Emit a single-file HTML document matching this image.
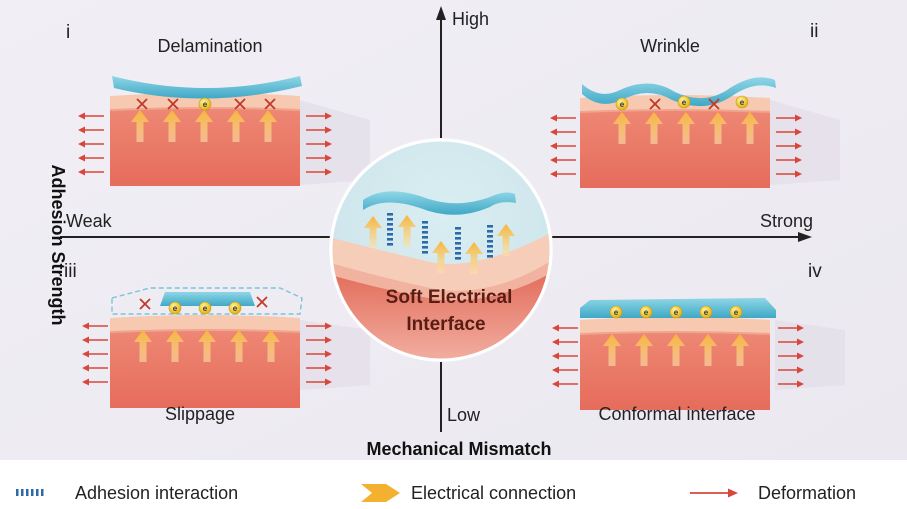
<!DOCTYPE html>
<html><head><meta charset="utf-8"><style>
html,body{margin:0;padding:0;background:#fff}
svg{display:block}
text{font-family:"Liberation Sans",Arial,sans-serif}
</style></head><body>
<svg width="907" height="509" viewBox="0 0 907 509" xmlns="http://www.w3.org/2000/svg">
<defs>
<linearGradient id="bg" x1="0" y1="0" x2="1" y2="1">
<stop offset="0" stop-color="#f1eff5"/><stop offset="1" stop-color="#ebe8f0"/></linearGradient>
<linearGradient id="body" x1="0" y1="0" x2="0" y2="1">
<stop offset="0" stop-color="#ee8a76"/><stop offset="1" stop-color="#e66c5c"/></linearGradient>
<linearGradient id="film" x1="0" y1="0" x2="0" y2="1">
<stop offset="0" stop-color="#8fd6e6"/><stop offset="1" stop-color="#3fa8c6"/></linearGradient>
<linearGradient id="ya" x1="0" y1="0" x2="0" y2="1">
<stop offset="0" stop-color="#f6b53a"/><stop offset="1" stop-color="#fbe0a8" stop-opacity="0.6"/></linearGradient>
<radialGradient id="circ" cx="0.5" cy="0.35" r="0.65">
<stop offset="0" stop-color="#d9eef2"/><stop offset="0.7" stop-color="#cfe6ec"/><stop offset="1" stop-color="#e8f0f3"/></radialGradient>
<linearGradient id="circred" x1="0" y1="0" x2="0" y2="1">
<stop offset="0" stop-color="#e26a58"/><stop offset="1" stop-color="#f3b5a8"/></linearGradient>
<radialGradient id="eb" cx="0.4" cy="0.35" r="0.6">
<stop offset="0" stop-color="#fff5a0"/><stop offset="1" stop-color="#e5b51c"/></radialGradient>
<g id="tissue">
<path d="M0,8 Q95,0 190,8 L190,90 L0,90 Z" fill="url(#body)"/>
<path d="M0,0 Q95,-6 190,0 L190,14 Q95,10 0,14 Z" fill="#f7c9b1"/>
<path d="M0,14 Q95,10 190,14" stroke="#f0a58f" stroke-width="2" fill="none"/>
</g>
<polygon id="yarr" points="0,-16 -9,-4 -3.5,-4 -3.5,16 3.5,16 3.5,-4 9,-4" fill="url(#ya)"/>
<g id="rr"><line x1="0" y1="0" x2="20" y2="0" stroke="#d8473b" stroke-width="1.6"/><polygon points="26,0 19,-3.5 19,3.5" fill="#d8473b"/></g>
<g id="rl"><line x1="6" y1="0" x2="26" y2="0" stroke="#d8473b" stroke-width="1.6"/><polygon points="0,0 7,-3.5 7,3.5" fill="#d8473b"/></g>
<g id="arrs">
<use href="#rl" x="0" y="0"/><use href="#rl" x="0" y="14"/><use href="#rl" x="0" y="28"/><use href="#rl" x="0" y="42"/><use href="#rl" x="0" y="56"/>
</g>
<g id="arrsR">
<use href="#rr" x="0" y="0"/><use href="#rr" x="0" y="14"/><use href="#rr" x="0" y="28"/><use href="#rr" x="0" y="42"/><use href="#rr" x="0" y="56"/>
</g>
<g id="ya5">
<use href="#yarr" x="0"/><use href="#yarr" x="32"/><use href="#yarr" x="64"/><use href="#yarr" x="96"/><use href="#yarr" x="128"/>
</g>
<g id="e"><circle r="6" fill="url(#eb)" stroke="#c99a10" stroke-width="0.6"/><text y="3" text-anchor="middle" font-size="8" fill="#333" font-weight="bold">e</text></g>
<g id="x"><path d="M-5,-5 L5,5 M5,-5 L-5,5" stroke="#c0392b" stroke-width="1.8"/></g>
<g id="dash"><rect x="-3" y="0" width="6" height="2.6" fill="#2f6aa8"/><rect x="-3" y="5" width="6" height="2.6" fill="#2f6aa8"/><rect x="-3" y="10" width="6" height="2.6" fill="#2f6aa8"/><rect x="-3" y="15" width="6" height="2.6" fill="#2f6aa8"/><rect x="-3" y="20" width="6" height="2.6" fill="#2f6aa8"/><rect x="-3" y="25" width="6" height="2.6" fill="#2f6aa8"/><rect x="-3" y="30" width="6" height="2.6" fill="#2f6aa8"/></g>
<clipPath id="cc"><circle cx="441" cy="250" r="110"/></clipPath>
</defs>
<rect x="0" y="0" width="907" height="460" fill="url(#bg)"/>
<rect x="0" y="460" width="907" height="49" fill="#fff"/>

<!-- shadows -->
<polygon points="300,100 370,120 370,180 300,185" fill="#e2dde8" opacity="0.7"/>
<polygon points="770,100 840,120 840,180 770,185" fill="#e2dde8" opacity="0.7"/>
<polygon points="300,320 370,330 370,385 300,390" fill="#e2dde8" opacity="0.7"/>
<polygon points="775,320 845,330 845,385 775,390" fill="#e2dde8" opacity="0.7"/>

<!-- axes -->
<line x1="441" y1="18" x2="441" y2="432" stroke="#222" stroke-width="2"/>
<polygon points="441,6 436,20 446,20" fill="#222"/>
<line x1="60" y1="237" x2="800" y2="237" stroke="#222" stroke-width="2"/>
<polygon points="812,237 798,232 798,242" fill="#222"/>

<!-- Quadrant i -->
<use href="#tissue" x="110" y="96"/>
<path d="M112,76 Q205,100 300,76 L302,86 Q205,110 114,88 Z" fill="url(#film)"/>
<use href="#ya5" x="140" y="126"/>
<use href="#x" x="142" y="104"/><use href="#x" x="173" y="104"/><use href="#e" x="205" y="104"/><use href="#x" x="240" y="104"/><use href="#x" x="270" y="104"/>
<use href="#arrs" x="78" y="116"/><use href="#arrsR" x="306" y="116"/>

<!-- Quadrant ii -->
<use href="#tissue" x="580" y="98"/>
<path d="M582,84 Q600,100 620,90 Q650,76 675,92 Q705,106 730,88 Q755,72 775,80 L776,88 Q755,80 732,96 Q705,114 672,100 Q648,86 622,100 Q600,110 582,94 Z" fill="url(#film)"/>
<use href="#ya5" x="622" y="128"/>
<use href="#e" x="622" y="104"/><use href="#x" x="655" y="104"/><use href="#e" x="684" y="102"/><use href="#x" x="714" y="104"/><use href="#e" x="742" y="102"/>
<use href="#arrs" x="550" y="118"/><use href="#arrsR" x="776" y="118"/>

<!-- Quadrant iii -->
<use href="#tissue" x="110" y="318"/>
<path d="M112,298 L150,288 L280,288 L302,298 L300,314 L112,314 Z" fill="none" stroke="#7cc4da" stroke-width="1.4" stroke-dasharray="5,3"/>
<path d="M165,292 L250,292 L255,306 L160,306 Z" fill="url(#film)"/>
<use href="#ya5" x="143" y="346"/>
<use href="#x" x="145" y="304"/><use href="#e" x="175" y="308"/><use href="#e" x="205" y="308"/><use href="#e" x="235" y="308"/><use href="#x" x="262" y="302"/>
<use href="#arrs" x="82" y="326"/><use href="#arrsR" x="306" y="326"/>

<!-- Quadrant iv -->
<use href="#tissue" x="580" y="320"/>
<path d="M590,300 L765,298 L776,310 L776,318 L580,318 L580,308 Z" fill="url(#film)"/>
<use href="#ya5" x="612" y="350"/>
<use href="#e" x="616" y="312"/><use href="#e" x="646" y="312"/><use href="#e" x="676" y="312"/><use href="#e" x="706" y="312"/><use href="#e" x="736" y="312"/>
<use href="#arrs" x="552" y="328"/><use href="#arrsR" x="778" y="328"/>

<!-- center circle -->
<circle cx="441" cy="250" r="112" fill="#f4f4f6"/>
<g clip-path="url(#cc)">
<rect x="320" y="130" width="250" height="240" fill="url(#circ)"/>
<path d="M320,235 Q380,250 430,262 Q480,272 560,228 L560,370 L320,370 Z" fill="#f6cdb8"/>
<path d="M320,260 Q390,280 440,290 Q500,296 560,255 L560,370 L320,370 Z" fill="#f1b2a0"/>
<path d="M320,272 Q390,292 440,300 Q500,304 560,268 L560,370 L320,370 Z" fill="url(#circred)"/>
</g>
<circle cx="441" cy="250" r="110" fill="none" stroke="#fff" stroke-width="3"/>
<path d="M363,200 Q385,185 420,196 Q455,210 490,197 Q505,190 515,194 L516,203 Q500,200 490,207 Q455,222 420,208 Q385,196 363,210 Z" fill="url(#film)"/>
<use href="#dash" x="390" y="213"/><use href="#dash" x="425" y="221"/><use href="#dash" x="458" y="227"/><use href="#dash" x="490" y="225"/>
<use href="#yarr" x="373" y="232"/><use href="#yarr" x="407" y="231"/><use href="#yarr" x="441" y="257"/><use href="#yarr" x="474" y="258"/><use href="#yarr" x="506" y="240"/>
<text x="449" y="303" text-anchor="middle" font-size="19" font-weight="bold" fill="#5a1d14">Soft Electrical</text>
<text x="446" y="330" text-anchor="middle" font-size="19" font-weight="bold" fill="#5a1d14">Interface</text>

<!-- labels -->
<text x="66" y="38" font-size="19" fill="#222">i</text>
<text x="210" y="52" text-anchor="middle" font-size="18" fill="#222">Delamination</text>
<text x="670" y="52" text-anchor="middle" font-size="18" fill="#222">Wrinkle</text>
<text x="810" y="37" font-size="19" fill="#222">ii</text>
<text x="64" y="277" font-size="19" fill="#222">iii</text>
<text x="808" y="277" font-size="19" fill="#222">iv</text>
<text x="200" y="420" text-anchor="middle" font-size="18" fill="#222">Slippage</text>
<text x="677" y="420" text-anchor="middle" font-size="18" fill="#222">Conformal interface</text>
<text x="452" y="25" font-size="18" fill="#222">High</text>
<text x="447" y="421" font-size="18" fill="#222">Low</text>
<text x="66" y="227" font-size="18" fill="#222">Weak</text>
<text x="760" y="227" font-size="18" fill="#222">Strong</text>
<text transform="translate(52,245) rotate(90)" text-anchor="middle" font-size="18" font-weight="bold" fill="#111">Adhesion Strength</text>
<text x="459" y="455" text-anchor="middle" font-size="18" font-weight="bold" fill="#111">Mechanical Mismatch</text>

<!-- legend -->
<g fill="#2f6aa8"><rect x="16" y="489" width="2.5" height="7"/><rect x="21" y="489" width="2.5" height="7"/><rect x="26" y="489" width="2.5" height="7"/><rect x="31" y="489" width="2.5" height="7"/><rect x="36" y="489" width="2.5" height="7"/><rect x="41" y="489" width="2.5" height="7"/></g>
<text x="75" y="499" font-size="18" fill="#222">Adhesion interaction</text>
<polygon points="361,484 386,484 400,493 386,502 361,502 372,493" fill="#f3b12f"/>
<text x="411" y="499" font-size="18" fill="#222">Electrical connection</text>
<line x1="690" y1="493" x2="730" y2="493" stroke="#d8473b" stroke-width="1.8"/>
<polygon points="738,493 728,488.5 728,497.5" fill="#d8473b"/>
<text x="758" y="499" font-size="18" fill="#222">Deformation</text>
</svg>
</body></html>
